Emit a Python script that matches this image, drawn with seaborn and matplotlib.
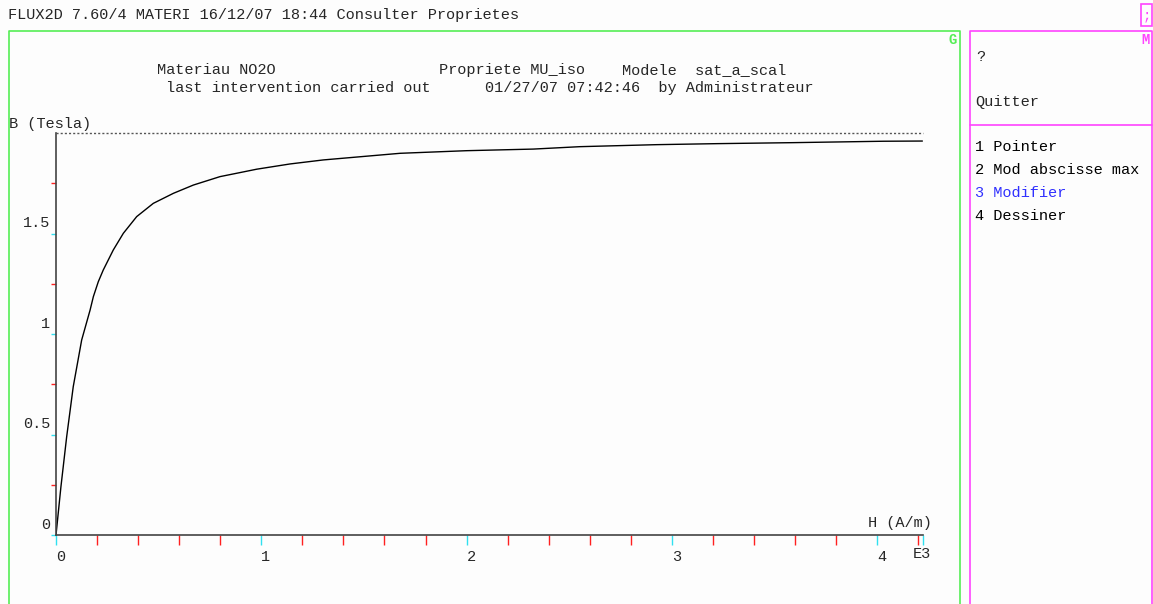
import numpy as np
import pandas as pd
import seaborn as sns
import matplotlib.pyplot as plt
from matplotlib.lines import Line2D
from matplotlib.patches import Rectangle
from matplotlib.ticker import MultipleLocator, FixedLocator
import matplotlib.transforms as mtransforms

# B(H) curve, H in kA/m (axis is E3)
h_vals = [0, 0.024, 0.052, 0.084, 0.125, 0.166, 0.182, 0.206, 0.230, 0.279, 0.328,
          0.393, 0.474, 0.572, 0.669, 0.799, 0.896, 0.978, 1.14, 1.302, 1.676,
          2.0, 2.325, 2.552, 2.926, 3.218, 3.591, 4.03, 4.22]
b_vals = [0, 0.24, 0.489, 0.738, 0.970, 1.119, 1.186, 1.26, 1.318, 1.418, 1.501,
          1.584, 1.650, 1.700, 1.741, 1.783, 1.803, 1.820, 1.846, 1.866, 1.899,
          1.912, 1.920, 1.932, 1.942, 1.947, 1.952, 1.959, 1.960]
b_sat = 2.0
h_max = 4.223
y_ticks = [0, 0.5, 1, 1.5]
y_tick_labels = ["0", "0.5", "1", "1.5"]
x_ticks = [0, 1, 2, 3, 4]
x_tick_labels = ["0", "1", "2", "3", "4"]

menu_top = ["?", "Quitter"]
menu_items = ["1 Pointer", "2 Mod abscisse max", "3 Modifier", "4 Dessiner"]

sns.set_theme(style="white")
plt.rcParams['font.family'] = ['Liberation Mono', 'DejaVu Sans Mono']
plt.rcParams['font.size'] = 11

W, H = 1153, 604
fig = plt.figure(figsize=(W / 100, H / 100), dpi=100, facecolor='#fdfdfd')
ax = fig.add_axes([56 / W, 1 - 535 / H, (923 - 56) / W, (535 - 133) / H])
ax.set_facecolor('#fdfdfd')

df = pd.DataFrame({'H': h_vals, 'B': b_vals})
sns.lineplot(data=df, x='H', y='B', ax=ax, color='black', linewidth=1.0)
ax.axhline(b_sat, color='#555555', linewidth=1.0, linestyle=(0, (1.5, 1.5)), clip_on=False)

ax.set_xlim(0, h_max)
ax.set_ylim(0, b_sat)
ax.set_xlabel('')
ax.set_ylabel('')

for s in ['top', 'right']:
    ax.spines[s].set_visible(False)
for s in ['left', 'bottom']:
    ax.spines[s].set_color('#444444')
    ax.spines[s].set_linewidth(1.2)

# integer ticks plus a black end-of-axis tick
ax.xaxis.set_major_locator(FixedLocator(x_ticks + [h_max]))
ax.xaxis.set_minor_locator(MultipleLocator(0.2))
ax.set_xticklabels(x_tick_labels + [""])
ax.yaxis.set_major_locator(FixedLocator(y_ticks))
ax.yaxis.set_minor_locator(FixedLocator([0.25, 0.75, 1.25, 1.75]))
ax.set_yticklabels(y_tick_labels)

ax.tick_params(axis='x', which='both', direction='out', length=7.2, width=1.0, pad=3.5,
               bottom=True, labelsize=11)
ax.tick_params(axis='y', which='both', direction='out', length=3.6, width=1.0, pad=0.5,
               left=True, labelsize=11)
ax.tick_params(which='major', color='#30e0f0')
ax.tick_params(which='minor', color='#ff2020')
ax.xaxis.get_major_ticks()[-1].tick1line.set_color('black')

for lab in ax.get_xticklabels():
    lab.set_horizontalalignment('left')
off = mtransforms.ScaledTranslation(0, 2.5 / 72, fig.dpi_scale_trans)
for lab in ax.get_yticklabels():
    lab.set_verticalalignment('bottom')
    lab.set_transform(lab.get_transform() + off)


def ftext(px, py, s, **kw):
    kw.setdefault('va', 'center')
    kw.setdefault('ha', 'left')
    fig.text(px / W, 1 - py / H, s, **kw)


def fline(xs, ys, color, lw=1.2):
    fig.add_artist(Line2D([x / W for x in xs], [1 - y / H for y in ys],
                          transform=fig.transFigure, color=color, linewidth=lw))


green = '#55ee55'
magenta = '#ff44ff'

ftext(8, 15, "FLUX2D 7.60/4 MATERI 16/12/07 18:44 Consulter Proprietes")
ftext(157, 70, "Materiau NO2O")
ftext(439, 70, "Propriete MU_iso")
ftext(622, 70, "Modele  sat_a_scal")
ftext(166, 88, "last intervention carried out")
ftext(485, 88, "01/27/07 07:42:46  by Administrateur")
ftext(9, 124, "B (Tesla)")
ftext(868, 523, "H (A/m)")
ftext(913, 554, "E3")

# frames
fline([9, 9, 960, 960], [H + 5, 31, 31, H + 5], green)
ftext(957, 40, "G", color=green, fontsize=10, ha='right', fontweight='bold')
fline([970, 970, 1152, 1152], [H + 5, 31, 31, H + 5], magenta)
fline([970, 1152], [125, 125], magenta)
ftext(1150, 40, "M", color=magenta, fontsize=10, ha='right', fontweight='bold')
fig.add_artist(Rectangle((1141 / W, 1 - 26 / H), 11 / W, 22 / H, transform=fig.transFigure,
                         fill=False, edgecolor=magenta, linewidth=1.2))
ftext(1146.5, 15, ";", color=magenta, ha='center', fontsize=10)

ftext(976, 57, menu_top[0])
ftext(975, 102, menu_top[1])
for i, item in enumerate(menu_items):
    ftext(975, 147 + 23 * i, item, color='#3030ff' if i == 2 else 'black')

fig.savefig("out.png", dpi=100, facecolor=fig.get_facecolor())
